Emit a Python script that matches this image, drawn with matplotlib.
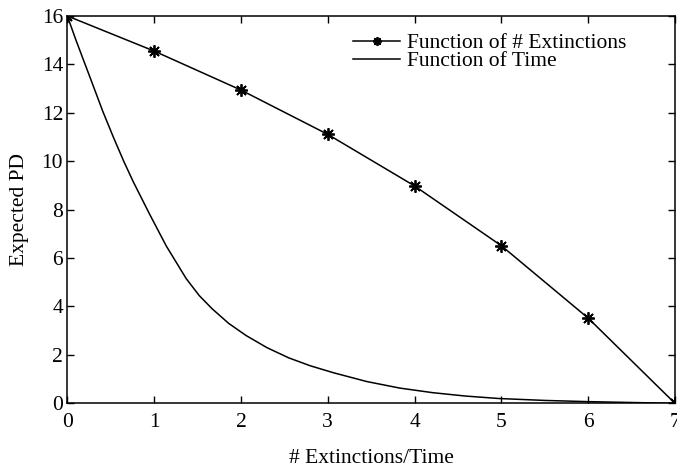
import matplotlib
matplotlib.use("Agg")
import matplotlib.pyplot as plt

plt.rcParams["font.family"] = ["Liberation Serif", "DejaVu Serif"]

# expected PD as a function of number of extinctions
ext_x = [0, 1, 2, 3, 4, 5, 6, 7]
ext_y = [16, 14.55, 12.94, 11.11, 8.98, 6.51, 3.52, 0]

# expected PD as a function of time
time_x = [0, 0.1, 0.2, 0.3, 0.41, 0.53, 0.65, 0.76, 0.95, 1.14,
          1.37, 1.52, 1.67, 1.86, 2.06, 2.3, 2.55, 2.8, 3.07, 3.45,
          3.83, 4.21, 4.59, 4.97, 5.5, 6.0, 6.5, 7.0]
time_y = [16, 15, 14.05, 13.1, 12.05, 11, 10, 9.15, 7.8, 6.5,
          5.15, 4.45, 3.9, 3.3, 2.8, 2.3, 1.88, 1.55, 1.26, 0.9,
          0.63, 0.44, 0.3, 0.2, 0.12, 0.07, 0.035, 0]

x_ticks = [0, 1, 2, 3, 4, 5, 6, 7]
y_ticks = [0, 2, 4, 6, 8, 10, 12, 14, 16]

fig = plt.figure(figsize=(6.77, 4.69), dpi=100)
ax = fig.add_axes([0.0994, 0.140, 0.8976, 0.826])

ax.plot(ext_x, ext_y, color="black", lw=1.1, marker=(8, 2, 0), ms=9,
        mew=1.3, label="Function of # Extinctions")
ax.plot(time_x, time_y, color="black", lw=1.1, label="Function of Time")

ax.set_xlim(0, 7)
ax.set_ylim(0, 16)
ax.set_xticks(x_ticks)
ax.set_yticks(y_ticks)
ax.tick_params(direction="in", top=True, right=True, length=5, width=1,
               labelsize=15.5)
ax.tick_params(axis="x", pad=7)
ax.tick_params(axis="y", pad=3)
for s in ax.spines.values():
    s.set_linewidth(1.1)

ax.set_xlabel("# Extinctions/Time", fontsize=15.5, labelpad=12)
ax.set_ylabel("Expected PD", fontsize=15.5, labelpad=9)

ax.legend(loc="upper left", bbox_to_anchor=(0.47, 0.956), frameon=False,
          fontsize=15.5, handlelength=2.2, handletextpad=0.3,
          labelspacing=-0.08, borderaxespad=0, borderpad=0, markerscale=0.7)

fig.savefig("out.png", dpi=100)
